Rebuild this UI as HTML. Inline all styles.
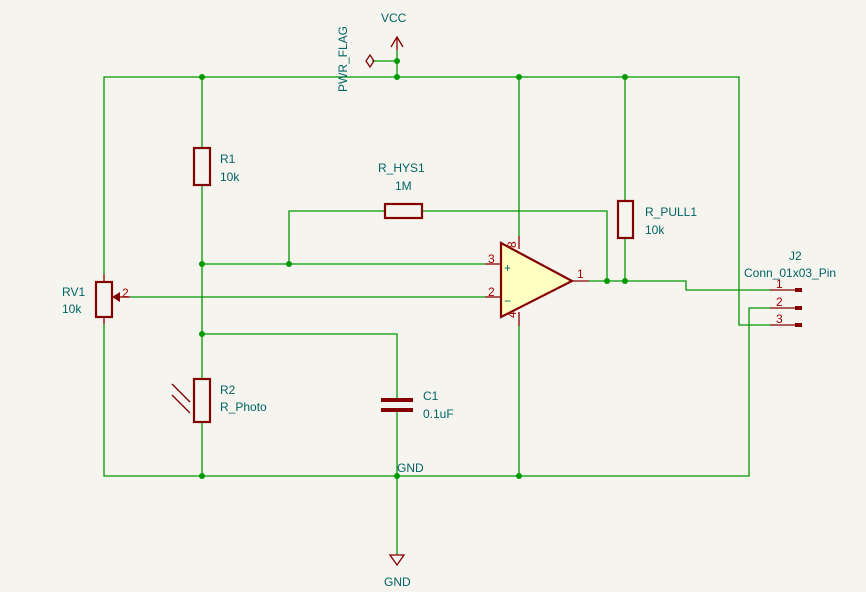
<!DOCTYPE html>
<html><head><style>body{margin:0;background:#f5f4ef}svg{display:block}text{font-family:"Liberation Sans",sans-serif;font-size:12px;fill:#006464}.r{fill:#a00000}</style></head>
<body>
<svg width="866" height="592" viewBox="0 0 866 592">
<g stroke="#009900" stroke-width="1.3" fill="none">
<polyline points="104,274 104,77 739,77 739,325 770,325"/>
<polyline points="104,324 104,476 749,476 749,308 770,308"/>
<line x1="397" y1="50" x2="397" y2="77"/>
<line x1="372" y1="61" x2="397" y2="61"/>
<line x1="202" y1="77" x2="202" y2="148"/>
<line x1="202" y1="185" x2="202" y2="379"/>
<line x1="202" y1="422" x2="202" y2="476"/>
<line x1="202" y1="264" x2="485" y2="264"/>
<line x1="130" y1="297" x2="485" y2="297"/>
<polyline points="289,264 289,211 385,211"/>
<polyline points="422,211 607,211 607,281"/>
<polyline points="202,334 397,334 397,398"/>
<line x1="397" y1="412" x2="397" y2="555"/>
<line x1="519" y1="77" x2="519" y2="236"/>
<line x1="519" y1="326" x2="519" y2="476"/>
<line x1="625" y1="77" x2="625" y2="201"/>
<line x1="625" y1="238" x2="625" y2="281"/>
<polyline points="589,281 686,281 686,290 770,290"/>
</g>
<g fill="#009900">
<circle cx="202" cy="77" r="3"/><circle cx="397" cy="77" r="3"/><circle cx="397" cy="61" r="3"/><circle cx="519" cy="77" r="3"/><circle cx="625" cy="77" r="3"/>
<circle cx="202" cy="264" r="3"/><circle cx="289" cy="264" r="3"/><circle cx="202" cy="334" r="3"/><circle cx="607" cy="281" r="3"/><circle cx="625" cy="281" r="3"/>
<circle cx="202" cy="476" r="3"/><circle cx="397" cy="476" r="3"/><circle cx="519" cy="476" r="3"/>
</g>
<g stroke="#840000" stroke-width="1.3" fill="none">
<polyline points="391,47 397,37 403,47"/><line x1="397" y1="37" x2="397" y2="50"/>
<polygon points="366,61 370,55 374,61 370,67"/>
<rect x="194" y="148" width="16" height="37" stroke-width="2.2"/>
<rect x="194" y="379" width="16" height="43" stroke-width="2.2"/>
<line x1="172" y1="384" x2="190" y2="402"/><line x1="172" y1="395" x2="190" y2="413"/>
<rect x="385" y="204" width="37" height="14" stroke-width="2.2"/>
<rect x="618" y="201" width="15" height="37" stroke-width="2.2"/>
<rect x="96" y="282" width="16" height="35" stroke-width="2.2"/>
<line x1="104" y1="274" x2="104" y2="282"/><line x1="104" y1="317" x2="104" y2="324"/>
<line x1="120" y1="297" x2="130" y2="297"/>
<line x1="381" y1="400" x2="413" y2="400" stroke-width="4"/><line x1="381" y1="410" x2="413" y2="410" stroke-width="4"/>
<polygon points="390,555 404,555 397,565"/>
<line x1="485" y1="264" x2="501" y2="264"/><line x1="485" y1="297" x2="501" y2="297"/>
<line x1="519" y1="236" x2="519" y2="249"/><line x1="519" y1="312" x2="519" y2="326"/>
<line x1="572" y1="281" x2="589" y2="281"/>
<line x1="770" y1="290" x2="797" y2="290"/><line x1="770" y1="308" x2="797" y2="308"/><line x1="770" y1="325" x2="797" y2="325"/>
</g>
<polygon points="112,297 120,292 120,302" fill="#840000"/>
<g fill="#840000"><rect x="795" y="288" width="7" height="4"/><rect x="795" y="306" width="7" height="4"/><rect x="795" y="323" width="7" height="4"/></g>
<polygon points="501,243 572,281 501,317" fill="#ffffc2" stroke="#840000" stroke-width="2.2"/>
<g style="font-size:14px"><text x="504" y="272">+</text><text x="504" y="305">−</text></g>
<text x="381" y="22">VCC</text>
<text transform="translate(347,92) rotate(-90)">PWR_FLAG</text>
<text x="220" y="163">R1</text><text x="220" y="181">10k</text>
<text x="220" y="394">R2</text><text x="220" y="411">R_Photo</text>
<text x="378" y="172">R_HYS1</text><text x="395" y="190">1M</text>
<text x="645" y="216">R_PULL1</text><text x="645" y="234">10k</text>
<text x="423" y="400">C1</text><text x="423" y="418">0.1uF</text>
<text x="62" y="296">RV1</text><text x="62" y="313">10k</text>
<text x="397" y="472">GND</text><text x="384" y="586">GND</text>
<text x="789" y="260">J2</text><text x="744" y="277">Conn_01x03_Pin</text>
<g class="r" style="font-size:13px"><text x="488" y="263" class="r">3</text><text x="488" y="296" class="r">2</text><text x="577" y="278" class="r">1</text><text x="122" y="297" class="r">2</text>
<text x="776" y="288" class="r">1</text><text x="776" y="306" class="r">2</text><text x="776" y="323" class="r">3</text>
<text transform="translate(516,248) rotate(-90)" class="r">8</text><text transform="translate(516,318) rotate(-90)" class="r">4</text></g>
</svg>
</body></html>
